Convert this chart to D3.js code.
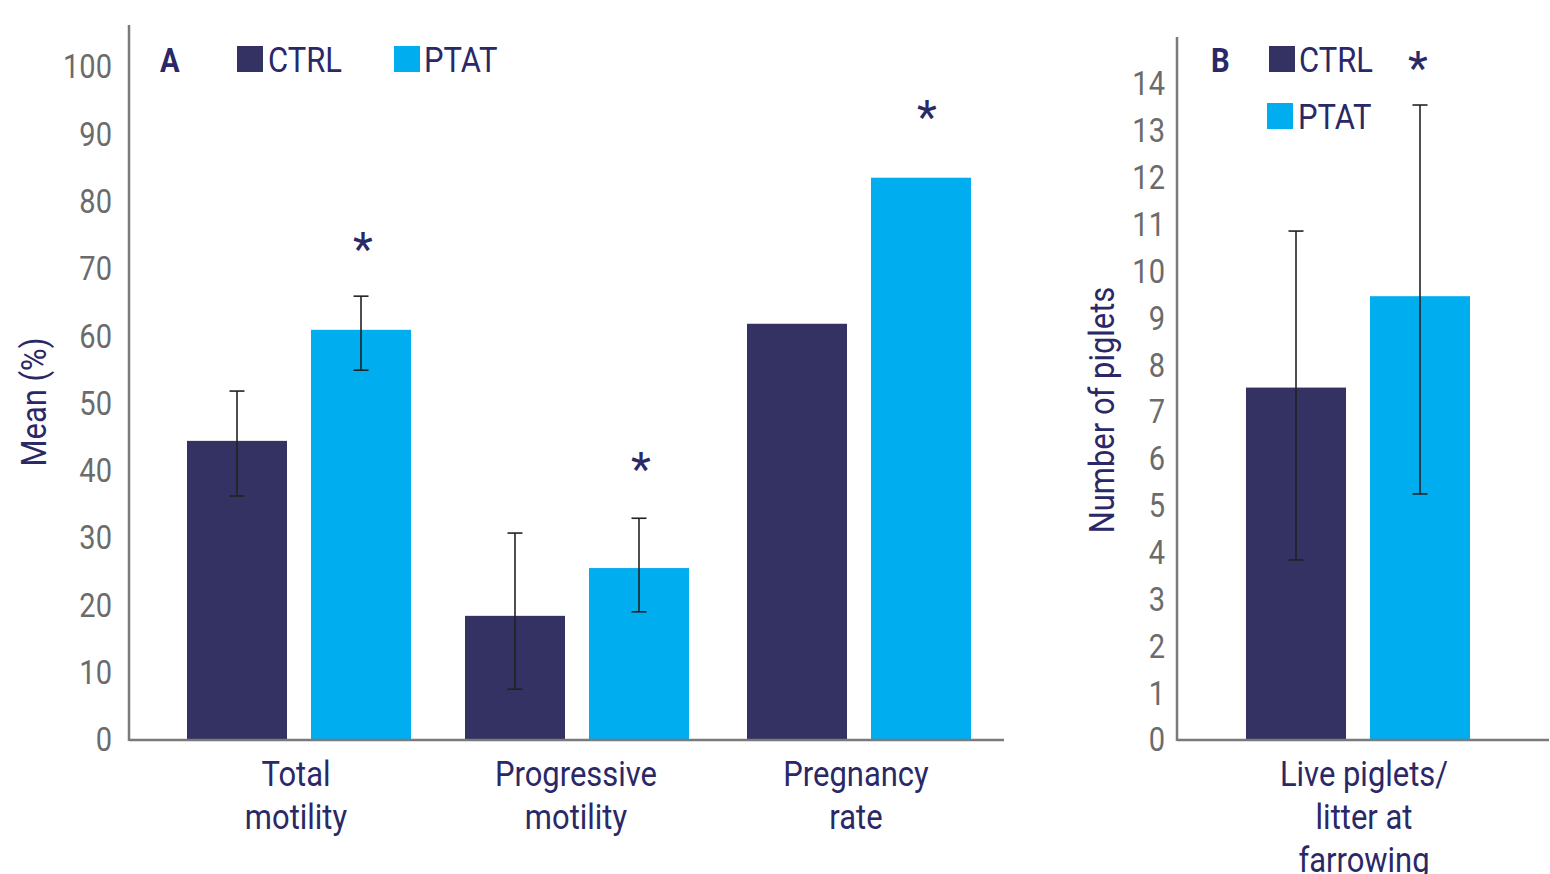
<!DOCTYPE html>
<html>
<head>
<meta charset="utf-8">
<script src="https://cdn.jsdelivr.net/npm/d3@7"></script>
<style>
  html, body { margin: 0; padding: 0; background: #fff; }
  svg { display: block; }
  text { font-family: Roboto, "Noto Sans", sans-serif; }
</style>
</head>
<body>
<svg id="chart" width="1550" height="874"></svg>
<script>
// Panel A: semen quality and pregnancy rate (%)
const groupsA = ["Total motility", "Progressive motility", "Pregnancy rate"];
const groupLabelsA = [["Total", "motility"], ["Progressive", "motility"], ["Pregnancy", "rate"]];
const series = ["CTRL", "PTAT"];
const ctrlA = [44.3, 18.3, 61.7];
const ptatA = [60.8, 25.4, 83.4];
// error bar bounds (upper / lower); null = no error bar
const ctrlHiA = [51.7, 30.6, null];
const ctrlLoA = [36.1, 7.4, null];
const ptatHiA = [65.8, 32.8, null];
const ptatLoA = [54.8, 18.9, null];
const starsA = [73.7, 41.0, 93.3];     // significance marker height (PTAT)
const ticksA = [0, 10, 20, 30, 40, 50, 60, 70, 80, 90, 100];

// Panel B: litter size
const groupsB = ["Live piglets/litter at farrowing"];
const groupLabelsB = [["Live piglets/", "litter at", "farrowing"]];
const ctrlB = [7.5];
const ptatB = [9.45];
const ctrlHiB = [10.84];
const ctrlLoB = [3.82];
const ptatHiB = [13.53];
const ptatLoB = [5.23];
const starsB = [14.45];
const ticksB = d3.range(0, 15);

const colors = { CTRL: "#333262", PTAT: "#00adee" };
const navy = "#2a2867";
const tickGrey = "#6b6b6b";
const axisGrey = "#7a7a7a";
const SX = 0.86; // horizontal squeeze for the condensed look

const svg = d3.select("#chart");

function ctext(g, x, y, str, opts = {}) {
  return g.append("text")
    .attr("transform", `translate(${x},${y}) scale(${opts.sx || SX},1)`)
    .attr("text-anchor", opts.anchor || "middle")
    .attr("font-size", opts.size || 36)
    .attr("font-weight", opts.weight || 400)
    .attr("fill", opts.fill || navy)
    .text(str);
}

function panel(cfg) {
  const g = svg.append("g");
  const y = d3.scaleLinear().domain(cfg.yDomain).range([739, cfg.yTop]);
  const x0 = d3.scaleBand().domain(cfg.groups).range(cfg.xRange)
    .paddingInner(0.2).paddingOuter(0.1);
  const x1 = d3.scaleBand().domain(series).range([0, x0.bandwidth()])
    .paddingInner(24 / 124);

  const rows = cfg.groups.map((grp, i) => ({
    grp,
    items: [
      { s: "CTRL", v: cfg.ctrl[i], hi: cfg.ctrlHi[i], lo: cfg.ctrlLo[i] },
      { s: "PTAT", v: cfg.ptat[i], hi: cfg.ptatHi[i], lo: cfg.ptatLo[i] }
    ],
    star: cfg.stars[i]
  }));

  const grpSel = g.selectAll("g.grp").data(rows).join("g")
    .attr("transform", (d, i) => `translate(${x0(d.grp) + (cfg.groupNudge ? cfg.groupNudge[i] : 0)},0)`);

  grpSel.selectAll("rect").data(d => d.items).join("rect")
    .attr("x", d => x1(d.s))
    .attr("width", x1.bandwidth())
    .attr("y", d => y(d.v))
    .attr("height", d => y(0) - y(d.v))
    .attr("fill", d => colors[d.s]);

  // error bars
  const eb = grpSel.selectAll("g.err").data(d => d.items.filter(it => it.hi != null)).join("g")
    .attr("class", "err")
    .attr("stroke", "#222")
    .attr("stroke-width", 1.6);
  const cx = d => x1(d.s) + x1.bandwidth() / 2;
  eb.append("line").attr("x1", cx).attr("x2", cx)
    .attr("y1", d => y(d.hi)).attr("y2", d => y(d.lo));
  eb.append("line").attr("x1", d => cx(d) - 7.5).attr("x2", d => cx(d) + 7.5)
    .attr("y1", d => y(d.hi)).attr("y2", d => y(d.hi));
  eb.append("line").attr("x1", d => cx(d) - 7.5).attr("x2", d => cx(d) + 7.5)
    .attr("y1", d => y(d.lo)).attr("y2", d => y(d.lo));

  // significance stars
  grpSel.filter(d => d.star != null).each(function (d, i) {
    const xs = x1("PTAT") + x1.bandwidth() / 2 + cfg.starShift[i];
    ctext(d3.select(this), xs, y(d.star) + 22, "*", { size: 46, sx: 1, weight: 400 });
  });

  // axes
  const yAxis = d3.axisLeft(y).tickValues(cfg.ticks).tickSize(0).tickPadding(0);
  const ya = g.append("g").attr("transform", `translate(${cfg.tickX},0)`).call(yAxis);
  ya.select(".domain").remove();
  ya.selectAll("text")
    .attr("x", 0).attr("dy", "0.36em")
    .attr("font-size", 33).attr("fill", tickGrey)
    .attr("font-family", "Roboto, sans-serif")
    .attr("transform", "scale(0.88,1)");

  g.append("line").attr("x1", cfg.axisX).attr("x2", cfg.axisX)
    .attr("y1", cfg.axisTop).attr("y2", 741)
    .attr("stroke", axisGrey).attr("stroke-width", 2.5);
  g.append("line").attr("x1", cfg.axisX).attr("x2", cfg.axisRight)
    .attr("y1", 740).attr("y2", 740)
    .attr("stroke", axisGrey).attr("stroke-width", 2.5);

  // category labels
  rows.forEach((d, i) => {
    const cxg = x0(d.grp) + x0.bandwidth() / 2 + cfg.labelShift;
    cfg.labels[i].forEach((line, k) => {
      ctext(g, cxg, 786 + k * 43, line, { size: 36 });
    });
  });

  // y title
  g.append("text")
    .attr("transform", `translate(${cfg.titleX},${cfg.titleY}) rotate(-90) scale(${SX},1)`)
    .attr("text-anchor", "middle")
    .attr("font-size", 36)
    .attr("fill", navy)
    .text(cfg.title);

  return g;
}

panel({
  groups: groupsA, labels: groupLabelsA, ctrl: ctrlA, ptat: ptatA,
  ctrlHi: ctrlHiA, ctrlLo: ctrlLoA, ptatHi: ptatHiA, ptatLo: ptatLoA, stars: starsA,
  yDomain: [0, 100], yTop: 66, ticks: ticksA, groupNudge: [0, -2, 0], starShift: [2, 2, 6],
  xRange: [159, 999], tickX: 112, axisX: 129, axisTop: 25, axisRight: 1004,
  labelShift: -3, title: "Mean (%)", titleX: 46, titleY: 402
});

panel({
  groups: groupsB, labels: groupLabelsB, ctrl: ctrlB, ptat: ptatB,
  ctrlHi: ctrlHiB, ctrlLo: ctrlLoB, ptatHi: ptatHiB, ptatLo: ptatLoB, stars: starsB,
  yDomain: [0, 14], yTop: 83, ticks: ticksB, starShift: [-2],
  xRange: [1218, 1498], tickX: 1165, axisX: 1177, axisTop: 37, axisRight: 1549,
  labelShift: 6, title: "Number of piglets", titleX: 1114, titleY: 410
});

// legends
const legA = svg.append("g");
ctext(legA, 160, 72, "A", { anchor: "start", weight: 700, size: 34 });
legA.append("rect").attr("x", 237).attr("y", 46).attr("width", 26).attr("height", 26).attr("fill", colors.CTRL);
ctext(legA, 268, 72, "CTRL", { anchor: "start", size: 36 });
legA.append("rect").attr("x", 394).attr("y", 46).attr("width", 26).attr("height", 26).attr("fill", colors.PTAT);
ctext(legA, 424, 72, "PTAT", { anchor: "start", size: 36 });

const legB = svg.append("g");
ctext(legB, 1211, 72, "B", { anchor: "start", weight: 700, size: 34 });
legB.append("rect").attr("x", 1269).attr("y", 46).attr("width", 26).attr("height", 26).attr("fill", colors.CTRL);
ctext(legB, 1299, 72, "CTRL", { anchor: "start", size: 36 });
legB.append("rect").attr("x", 1267).attr("y", 103).attr("width", 26).attr("height", 26).attr("fill", colors.PTAT);
ctext(legB, 1298, 129, "PTAT", { anchor: "start", size: 36 });
</script>
</body>
</html>
